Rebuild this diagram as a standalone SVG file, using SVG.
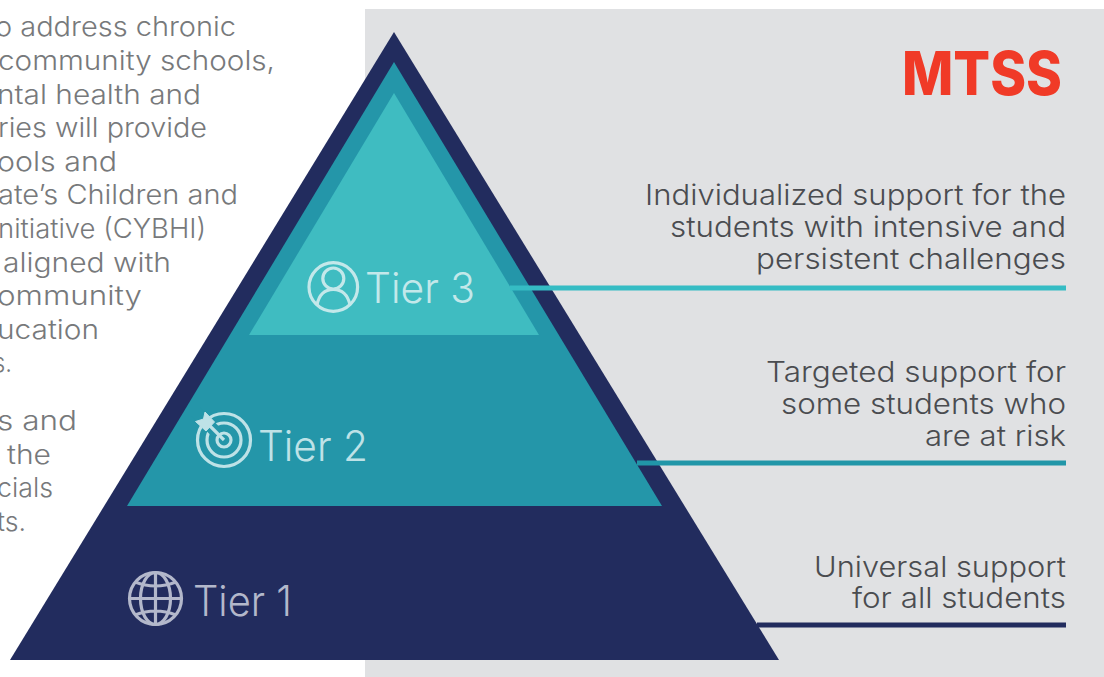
<svg xmlns="http://www.w3.org/2000/svg" width="1104" height="677" viewBox="0 0 1104 677">
<style>
text{font-family:"Inter","Liberation Sans",sans-serif;}
.b{font-size:27px;font-weight:300;fill:#77797b;text-anchor:end}
.r{font-size:28px;font-weight:300;fill:#4a4c50;text-anchor:end}
.t{font-size:42px;font-weight:300;}
.ic{fill:none;stroke-width:3.2}
</style>
<rect id="panel" x="365" y="9" width="739" height="668" fill="#e0e1e3"/>
<g id="body-text">
<text class="b" x="236" y="36" textLength="241" lengthAdjust="spacingAndGlyphs">o address chronic</text>
<text class="b" x="275" y="70" textLength="277" lengthAdjust="spacingAndGlyphs">community schools,</text>
<text class="b" x="201" y="104" textLength="204" lengthAdjust="spacingAndGlyphs">ntal health and</text>
<text class="b" x="207" y="137" textLength="209" lengthAdjust="spacingAndGlyphs">ries will provide</text>
<text class="b" x="117" y="171" textLength="120" lengthAdjust="spacingAndGlyphs">ools and</text>
<text class="b" x="238" y="204" textLength="240" lengthAdjust="spacingAndGlyphs">ate’s Children and</text>
<text class="b" x="206" y="238" textLength="208" lengthAdjust="spacingAndGlyphs">nitiative (CYBHI)</text>
<text class="b" x="171" y="272" textLength="168" lengthAdjust="spacingAndGlyphs">aligned with</text>
<text class="b" x="142" y="305" textLength="145" lengthAdjust="spacingAndGlyphs">ommunity</text>
<text class="b" x="99" y="339" textLength="102" lengthAdjust="spacingAndGlyphs">ucation</text>
<text class="b" x="12" y="372" textLength="19" lengthAdjust="spacingAndGlyphs">s.</text>
<text class="b" x="77" y="430" textLength="80" lengthAdjust="spacingAndGlyphs">s and</text>
<text class="b" x="51" y="464" textLength="44" lengthAdjust="spacingAndGlyphs">the</text>
<text class="b" x="53" y="497" textLength="56" lengthAdjust="spacingAndGlyphs">cials</text>
<text class="b" x="26" y="531" textLength="29" lengthAdjust="spacingAndGlyphs">ts.</text>
</g>
<g id="tier1">
<polygon points="394,32 779,660 10,660" fill="#222c5e"/>
<g class="ic" stroke="#b3b8cb">
<circle cx="155.500" cy="598.500" r="26"/>
<ellipse cx="155.500" cy="598.500" rx="15" ry="26"/>
<path d="M155.500 572.500V624.500M129.500 598.500H181.500M135 582Q155.500 590 176 582M135 615Q155.500 607 176 615"/>
</g>
<text class="t" x="193" y="616" fill="#b3b8cb" textLength="99" lengthAdjust="spacingAndGlyphs">Tier 1</text>
</g>
<g id="tier2">
<polygon points="394,62 662,506 127,506" fill="#2496a9"/>
<g class="ic" stroke="#bee2e7">
<circle cx="224" cy="440" r="26.500"/>
<circle cx="224" cy="440" r="17"/>
<circle cx="224" cy="440" r="7"/>
<path d="M196 412L218 434" stroke="#2496a9" stroke-width="12"/>
<path d="M224 440L207 423"/>
<path d="M205 412L203.500 419L195.500 421.500L206 431L214.500 422Z" fill="#bee2e7" stroke-width="1"/>
</g>
<text class="t" x="258" y="461" fill="#bee2e7" textLength="110" lengthAdjust="spacingAndGlyphs">Tier 2</text>
</g>
<g id="tier3">
<polygon points="394,93 539,335 249,335" fill="#3fbcc1"/>
<g class="ic" stroke="#c3e8ea">
<circle cx="333.300" cy="287" r="24.300"/>
<circle cx="333.300" cy="278.500" r="10.500"/>
<path d="M317 305Q320 289.500 333.300 289.500Q346.600 289.500 350 305"/>
</g>
<text class="t" x="365" y="303" fill="#c3e8ea" textLength="110" lengthAdjust="spacingAndGlyphs">Tier 3</text>
</g>
<g id="connectors">
<rect x="510" y="285.500" width="556" height="5" fill="#35bcc4"/>
<rect x="637" y="460.500" width="429" height="5" fill="#2196a8"/>
<rect x="757" y="622.500" width="309" height="5" fill="#222c5e"/>
</g>
<g id="labels">
<text x="902" y="95" font-size="60" font-weight="800" fill="#f03a27" textLength="160" lengthAdjust="spacingAndGlyphs">MTSS</text>
<text class="r" x="1066" y="205" textLength="421" lengthAdjust="spacingAndGlyphs">Individualized support for the</text>
<text class="r" x="1066" y="237" textLength="396" lengthAdjust="spacingAndGlyphs">students with intensive and</text>
<text class="r" x="1066" y="269" textLength="310" lengthAdjust="spacingAndGlyphs">persistent challenges</text>
<text class="r" x="1066" y="382" textLength="300" lengthAdjust="spacingAndGlyphs">Targeted support for</text>
<text class="r" x="1066" y="414" textLength="285" lengthAdjust="spacingAndGlyphs">some students who</text>
<text class="r" x="1066" y="446" textLength="141" lengthAdjust="spacingAndGlyphs">are at risk</text>
<text class="r" x="1066" y="577" textLength="252" lengthAdjust="spacingAndGlyphs">Universal support</text>
<text class="r" x="1066" y="608" textLength="214" lengthAdjust="spacingAndGlyphs">for all students</text>
</g>
</svg>
